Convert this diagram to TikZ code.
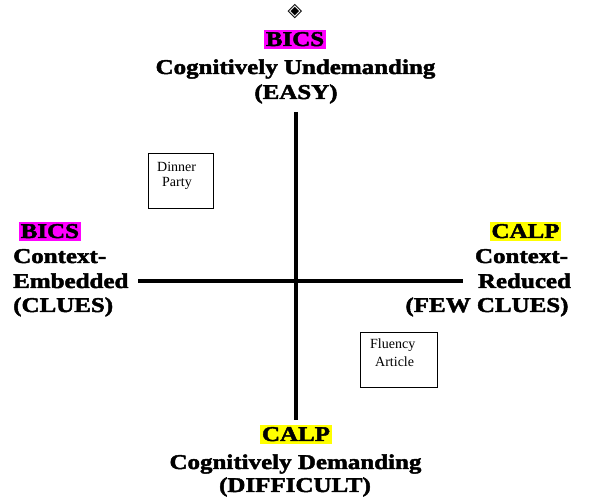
\documentclass[tikz,border=0pt]{standalone}
\usepackage{fontspec}
\setmainfont{Liberation Serif}
\newfontfamily\hd[FakeStretch=1.19,FakeBold=2.2]{Liberation Serif}
\newfontfamily\sym{DejaVu Sans}
\definecolor{mag}{HTML}{FF00FF}
\definecolor{yel}{HTML}{FFFF00}
\tikzset{
  hdtext/.style={inner sep=0pt, font=\hd\bfseries\fontsize{21}{24}\selectfont},
  tagbox/.style={hdtext, inner xsep=1.5pt, inner ysep=2.5pt},
  axis/.style={line width=4pt},
  smallbox/.style={draw, line width=0.8pt, inner sep=0pt},
  smalltext/.style={inner sep=0pt, font=\fontsize{14}{16}\selectfont, anchor=base west}
}
\begin{document}
\begin{tikzpicture}[x=1pt,y=-1pt]
\useasboundingbox[fill=white] (0,0) rectangle (590,502);
% axes
\coordinate (vt) at (296,112);
\coordinate (vb) at (296,420);
\coordinate (hl) at (138,281);
\coordinate (hr) at (463,281);
\draw[axis] (vt) -- (vb);
\draw[axis] (hl) -- (hr);
% top
\node[inner sep=0pt, font=\sym\fontsize{19}{19}\selectfont] (dia) at (295,12) {◈};
\node[tagbox, fill=mag, anchor=base] (t1) at (295,46) {BICS};
\node[hdtext, anchor=base] (t2) at (295.5,74) {Cognitively Undemanding};
\node[hdtext, anchor=base] (t3) at (296,99) {(EASY)};
% left
\node[tagbox, fill=mag, anchor=base west] (l1) at (19,238) {BICS};
\node[hdtext, anchor=base west] (l2) at (13,263) {Context-};
\node[hdtext, anchor=base west] (l3) at (13,288) {Embedded};
\node[hdtext, anchor=base west] (l4) at (13,312) {(CLUES)};
% right
\node[tagbox, fill=yel, anchor=base] (r1) at (525.5,238) {CALP};
\node[hdtext, anchor=base] (r2) at (521.5,263) {Context-};
\node[hdtext, anchor=base] (r3) at (524.5,288) {Reduced};
\node[hdtext, anchor=base] (r4) at (487,312) {(FEW CLUES)};
% bottom
\node[tagbox, fill=yel, anchor=base] (b1) at (296,441) {CALP};
\node[hdtext, anchor=base] (b2) at (295.5,469) {Cognitively Demanding};
\node[hdtext, anchor=base] (b3) at (295,492) {(DIFFICULT)};
% boxes
\node[smallbox, minimum width=65pt, minimum height=55pt] (dinner) at (180.5,180.5) {};
\node[smalltext] (d1) at (157,171.5) {Dinner};
\node[smalltext] (d2) at (162,187) {Party};
\node[smallbox, minimum width=77pt, minimum height=55pt] (fluency) at (398.5,359.5) {};
\node[smalltext] (f1) at (370,349) {Fluency};
\node[smalltext] (f2) at (375,366.5) {Article};
\end{tikzpicture}
\end{document}
